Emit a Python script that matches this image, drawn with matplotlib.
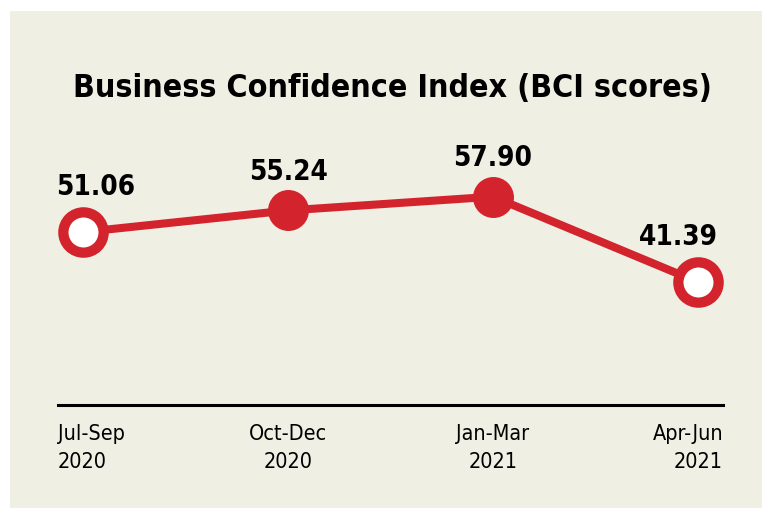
import matplotlib
matplotlib.use("Agg")
import matplotlib.pyplot as plt
from matplotlib.patches import Rectangle

# data
periods = ["Jul-Sep\n2020", "Oct-Dec\n2020", "Jan-Mar\n2021", "Apr-Jun\n2021"]
bci = [51.06, 55.24, 57.90, 41.39]
value_labels = ["51.06", "55.24", "57.90", "41.39"]
hollow = [True, False, False, True]

RED = "#d3242d"
BG = "#f0efe4"

plt.rcParams["font.family"] = ["DejaVu Sans"]
plt.rcParams["font.stretch"] = "condensed"

W, H = 762, 508
fig = plt.figure(figsize=(W / 100, H / 100), dpi=100)
fig.patch.set_facecolor("white")
fig.patches.append(Rectangle((10 / W, 0), 1, 1 - 11 / H, transform=fig.transFigure,
                             facecolor=BG, edgecolor="none", zorder=-5))

# axes placed in pixel terms
ax = fig.add_axes([58 / W, (H - 405) / H, 665 / W, 275 / H])
ax.set_facecolor("none")
x = list(range(len(bci)))
ax.plot(x, bci, color=RED, lw=5.8, zorder=2, solid_capstyle="butt")
for xi, v, h in zip(x, bci, hollow):
    if h:
        ax.plot(xi, v, "o", ms=29, mew=7.4, mec=RED, mfc="white", zorder=3)
    else:
        ax.plot(xi, v, "o", ms=29.5, mew=0, mfc=RED, zorder=3)

offsets = [(9, 27), (0, 22), (0, 22), (-14, 27)]
for xi, v, lab, off in zip(x, bci, value_labels, offsets):
    ax.annotate(lab, (xi, v), xytext=off, textcoords="offset points",
                ha="center", va="baseline", fontsize=20, fontweight="bold", color="black")

ax.set_xlim(-0.122, 3.122)
ax.set_ylim(17.6, 70.8)
ax.set_yticks([])
ax.set_xticks([])
for s in ["top", "left", "right"]:
    ax.spines[s].set_visible(False)
ax.spines["bottom"].set_linewidth(2.2)
ax.spines["bottom"].set_color("black")

tr = ax.get_xaxis_transform()
lo, hi = ax.get_xlim()
tick_pos = [lo, 1, 2, hi]
aligns = ["left", "center", "center", "right"]
for p, lab, a in zip(tick_pos, periods, aligns):
    ax.text(p, -0.07, lab, transform=tr, ha=a, va="top", multialignment=a,
            fontsize=15.5, linespacing=1.5, color="black")

fig.text(392 / W, 1 - 97 / H, "Business Confidence Index (BCI scores)",
         ha="center", va="baseline", fontsize=23, fontweight="bold", color="black")

fig.savefig("out.png", dpi=100)
